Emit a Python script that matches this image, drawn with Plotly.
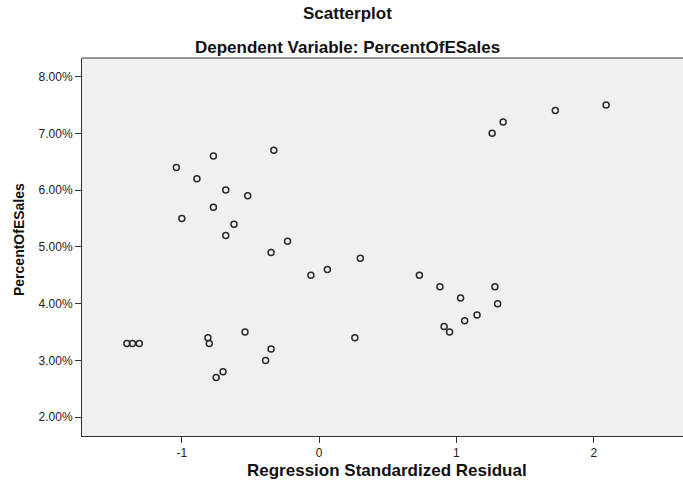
import plotly.graph_objects as go

# Regression standardized residual (x) vs PercentOfESales in % (y)
residuals = [2.09, 1.72, 1.34, 1.26,
             -0.33, -0.77, -1.04, -0.89, -0.68, -0.52, -0.77, -1.00, -0.62, -0.68,
             -0.23, -0.35, -0.06,
             0.30, 0.06, 0.73, 0.88, 0.91, 0.95, 0.26,
             1.28, 1.03, 1.30, 1.15, 1.06,
             -1.40, -1.36, -1.31, -0.81, -0.80, -0.54, -0.35, -0.39, -0.70, -0.75]
percent_esales = [7.5, 7.4, 7.2, 7.0,
                  6.7, 6.6, 6.4, 6.2, 6.0, 5.9, 5.7, 5.5, 5.4, 5.2,
                  5.1, 4.9, 4.5,
                  4.8, 4.6, 4.5, 4.3, 3.6, 3.5, 3.4,
                  4.3, 4.1, 4.0, 3.8, 3.7,
                  3.3, 3.3, 3.3, 3.4, 3.3, 3.5, 3.2, 3.0, 2.8, 2.7]

x_tick_values = [-1, 0, 1, 2]
x_tick_labels = ["-1", "0", "1", "2"]
y_tick_values = [2, 3, 4, 5, 6, 7, 8]
y_tick_labels = ["2.00%", "3.00%", "4.00%", "5.00%", "6.00%", "7.00%", "8.00%"]

title_text = "Scatterplot"
subtitle_text = "Dependent Variable: PercentOfESales"
x_title = "Regression Standardized Residual"
y_title = "PercentOfESales"

FONT = "Arial, Liberation Sans, sans-serif"
AXIS_COLOR = "#333333"
W, H = 683, 482
L, R, T, B = 82, 0, 58, 46
PW, PH = W - L - R, H - T - B


def px_x(px):
    return (px - L) / PW


def px_y(py):
    return (H - B - py) / PH


fig = go.Figure()
fig.add_trace(go.Scatter(
    x=residuals, y=percent_esales, mode="markers",
    marker=dict(symbol="circle-open", size=6, color="#2a2a2a",
                line=dict(width=1.5, color="#2a2a2a")),
    hoverinfo="x+y", showlegend=False,
))

fig.update_layout(
    width=W, height=H,
    margin=dict(l=L, r=R, t=T, b=B, pad=0),
    paper_bgcolor="white",
    plot_bgcolor="#F0F0F0",
    font=dict(family=FONT, color="#222222"),
    showlegend=False,
    xaxis=dict(
        range=[-1.727, 2.65], tickvals=x_tick_values, ticktext=x_tick_labels,
        showgrid=False, zeroline=False, showline=True, linecolor=AXIS_COLOR,
        linewidth=1, ticks="outside", ticklen=6, tickcolor=AXIS_COLOR,
        tickfont=dict(size=12, color="#222222"),
    ),
    yaxis=dict(
        range=[1.67, 8.326], tickvals=y_tick_values, ticktext=y_tick_labels,
        showgrid=False, zeroline=False, showline=True, linecolor=AXIS_COLOR,
        linewidth=1, ticks="outside", ticklen=6, tickcolor=AXIS_COLOR,
        tickfont=dict(size=12, color="#222222"),
    ),
    shapes=[dict(type="line", xref="paper", yref="paper", x0=0, x1=1, y0=1, y1=1,
                 line=dict(color=AXIS_COLOR, width=1))],
    annotations=[
        dict(text=f"<b>{title_text}</b>", xref="paper", yref="paper", x=px_x(347), y=px_y(14),
             showarrow=False, font=dict(size=17, color="#111111"), xanchor="center", yanchor="middle"),
        dict(text=f"<b>{subtitle_text}</b>", xref="paper", yref="paper", x=px_x(347), y=px_y(47),
             showarrow=False, font=dict(size=17, color="#111111"), xanchor="center", yanchor="middle"),
        dict(text=f"<b>{x_title}</b>", xref="paper", yref="paper", x=px_x(387), y=px_y(470),
             showarrow=False, font=dict(size=17, color="#111111"), xanchor="center", yanchor="middle"),
        dict(text=f"<b>{y_title}</b>", xref="paper", yref="paper", x=px_x(19), y=px_y(240),
             showarrow=False, textangle=-90, font=dict(size=14, color="#111111"),
             xanchor="center", yanchor="middle"),
    ],
)

fig.write_html("out.html", config={"displayModeBar": False},
               post_script="document.body.style.margin='0';")
